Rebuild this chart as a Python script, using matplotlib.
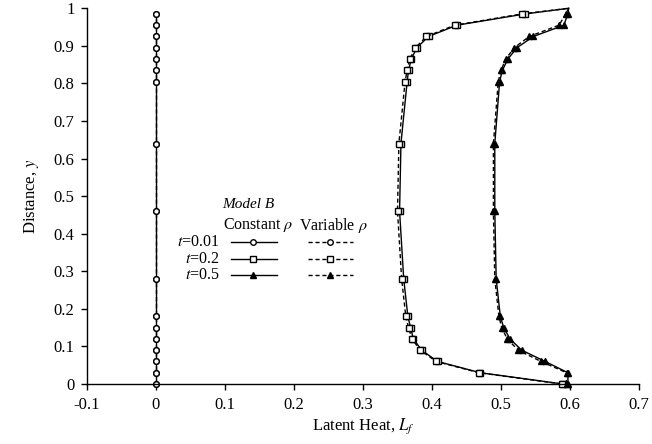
import matplotlib
matplotlib.use("Agg")
import matplotlib.pyplot as plt
from matplotlib.lines import Line2D

plt.rcParams['font.family'] = ['Liberation Serif', 'DejaVu Serif']
plt.rcParams['mathtext.fontset'] = 'stix'
plt.rcParams['font.size'] = 12

# Data
y_grid = [0, 0.03, 0.06, 0.09, 0.12, 0.15, 0.18, 0.28, 0.46, 0.64,
          0.805, 0.835, 0.865, 0.895, 0.925, 0.955, 0.985, 1.0]
t001_const = [0.0] * 17
t001_var = [0.0] * 17
t02_const = [0.590, 0.470, 0.408, 0.385, 0.373, 0.369, 0.365, 0.359, 0.353, 0.355,
             0.364, 0.366, 0.370, 0.378, 0.395, 0.436, 0.535, 0.598]
t02_var = [0.588, 0.468, 0.406, 0.383, 0.371, 0.366, 0.362, 0.356, 0.350, 0.352,
           0.361, 0.364, 0.368, 0.376, 0.392, 0.433, 0.530, 0.598]
t05_const = [0.597, 0.597, 0.564, 0.530, 0.513, 0.504, 0.499, 0.493, 0.491, 0.491,
             0.498, 0.502, 0.510, 0.523, 0.547, 0.591, 0.597, 0.598]
t05_var = [0.595, 0.595, 0.558, 0.525, 0.509, 0.501, 0.497, 0.491, 0.489, 0.489,
           0.496, 0.500, 0.507, 0.519, 0.541, 0.584, 0.594, 0.598]
x_ticks = [-0.1, 0, 0.1, 0.2, 0.3, 0.4, 0.5, 0.6, 0.7]
x_ticklabels = ["-0.1", "0", "0.1", "0.2", "0.3", "0.4", "0.5", "0.6", "0.7"]
y_ticks = [0, 0.1, 0.2, 0.3, 0.4, 0.5, 0.6, 0.7, 0.8, 0.9, 1]
y_ticklabels = ["0", "0.1", "0.2", "0.3", "0.4", "0.5", "0.6", "0.7", "0.8", "0.9", "1"]
time_labels = ["$t$=0.01", "$t$=0.2", "$t$=0.5"]
markers = ["o", "s", "^"]

W, H = 652, 444
fig = plt.figure(figsize=(W / 100, H / 100), dpi=100)
ax = fig.add_axes([87 / W, 1 - 384 / H, (639 - 87) / W, (384 - 8.3) / H])

ms = 4.0
def style(m):
    fc = 'black' if m == '^' else 'white'
    return dict(marker=m, markersize=ms, markerfacecolor=fc, markeredgecolor='black',
                markeredgewidth=1.0, color='black', clip_on=False)

n = 17
ax.plot(t001_const, y_grid[:n], '-', lw=1.0, **style('o'))
ax.plot(t001_var, y_grid[:n], '--', lw=1.0, dashes=(3, 2), **style('o'))
ax.plot(t02_const, y_grid, '-', lw=1.0, markevery=slice(0, n), **style('s'))
ax.plot(t02_var, y_grid, '--', lw=1.0, dashes=(3, 2), markevery=slice(0, n), **style('s'))
ax.plot(t05_const, y_grid, '-', lw=1.0, markevery=slice(0, n), **style('^'))
ax.plot(t05_var, y_grid, '--', lw=1.0, dashes=(3, 2), markevery=slice(0, n), **style('^'))

ax.set_xlim(-0.1, 0.7)
ax.set_ylim(0, 1)
ax.set_xticks(x_ticks)
ax.set_xticklabels(x_ticklabels)
ax.set_yticks(y_ticks)
ax.set_yticklabels(y_ticklabels)
ax.spines['top'].set_visible(False)
ax.spines['right'].set_visible(False)
for s in ['left', 'bottom']:
    ax.spines[s].set_linewidth(1.0)
ax.tick_params(direction='out', length=4, width=1.0, labelsize=12, pad=5)
ax.set_xlabel("Latent Heat, $L_f$", fontsize=12, labelpad=3)
ax.set_ylabel("Distance, $y$", fontsize=12, labelpad=9)

# Custom legend (figure pixel coordinates)
def fx(px):
    return px / W
def fy(py):
    return 1 - py / H

fig.text(fx(248), fy(204), "Model B", style='italic', ha='center', va='center', fontsize=11)
fig.text(fx(258), fy(225), r"Constant $\rho$", ha='center', va='center', fontsize=11.5)
fig.text(fx(333), fy(225), r"Variable $\rho$", ha='center', va='center', fontsize=11.5)
rows_y = [242, 259, 275]
for lbl, m, ry in zip(time_labels, markers, rows_y):
    fig.text(fx(220), fy(ry), lbl, ha='right', va='center', fontsize=11.5)
    fig.add_artist(Line2D([fx(231), fx(277)], [fy(ry), fy(ry)], transform=fig.transFigure,
                          color='black', lw=1.0))
    fig.add_artist(Line2D([fx(253)], [fy(ry)], transform=fig.transFigure, linestyle='none',
                          **{k: v for k, v in style(m).items() if k not in ('color', 'clip_on')}))
    fig.add_artist(Line2D([fx(308), fx(353)], [fy(ry), fy(ry)], transform=fig.transFigure,
                          color='black', lw=1.0, linestyle='--', dashes=(3, 2)))
    fig.add_artist(Line2D([fx(330)], [fy(ry)], transform=fig.transFigure, linestyle='none',
                          **{k: v for k, v in style(m).items() if k not in ('color', 'clip_on')}))

fig.savefig("out.png", dpi=100)
